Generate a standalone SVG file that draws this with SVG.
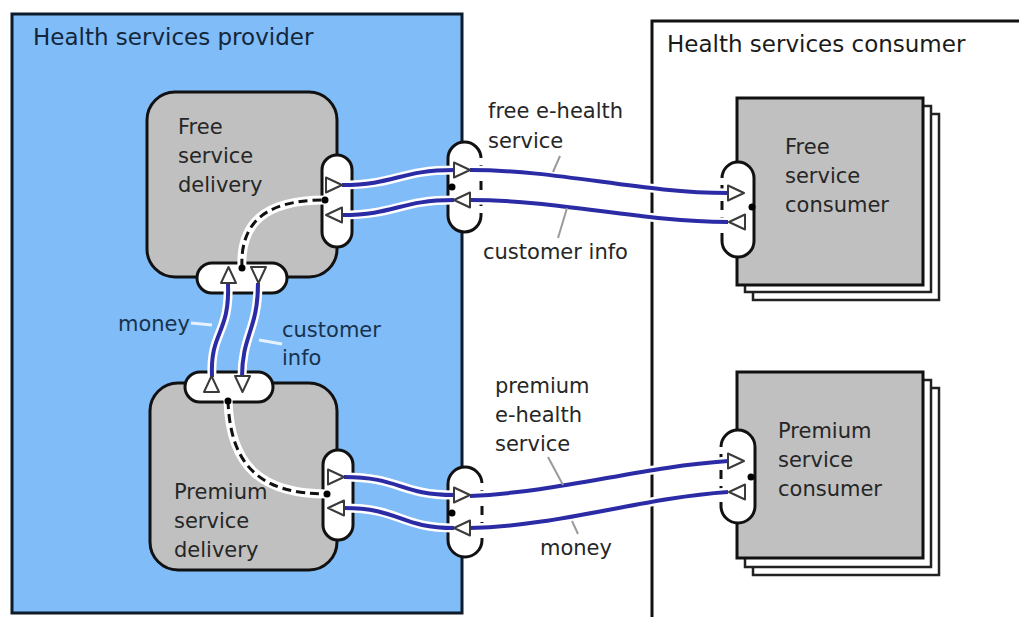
<svg xmlns="http://www.w3.org/2000/svg" xmlns:xlink="http://www.w3.org/1999/xlink" width="1019" height="617" viewBox="0 0 1019 617">
<style>
.t{font-family:"DejaVu Sans",Verdana,sans-serif;font-size:21px;fill:#262626}
.tp{font-family:"DejaVu Sans",Verdana,sans-serif;font-size:21px;fill:#17324d}
.title{font-family:"DejaVu Sans",Verdana,sans-serif;font-size:23px}
.box{fill:#c0c0c0;stroke:#111;stroke-width:3}
.layer{fill:#fff;stroke:#222;stroke-width:2.5}
.port{fill:#fff;stroke:#111;stroke-width:3}
.gap{stroke:#fff;stroke-width:4.5;stroke-dasharray:7 9;fill:none}
.halo{fill:none;stroke:#fff;stroke-width:9;stroke-linecap:round}
.flow{fill:none;stroke:#2b2ba6;stroke-width:4}
.dash{fill:none;stroke:#111;stroke-width:3;stroke-dasharray:9 5}
.tri{fill:#fff;stroke:#3a3a3a;stroke-width:2;stroke-linejoin:round}
.dot{fill:#000}
.lead{stroke:#9a9a9a;stroke-width:2}
.leadw{stroke:#e6f3ff;stroke-width:3}
</style>
<defs>
<path id="tri" d="M0,-7.5 L16,0 L0,7.5 Z"/>
</defs>

<g id="provider">
<rect x="12" y="14" width="450" height="599" fill="#80bcf8" stroke="#0d1b2a" stroke-width="3"/>
<text class="title" x="33" y="45" fill="#13263a">Health services provider</text>
</g>

<g id="consumer">
<rect x="652" y="21" width="420" height="640" fill="#fff" stroke="#111" stroke-width="3"/>
<text class="title" x="667" y="52" fill="#1a1a1a">Health services consumer</text>
</g>

<g id="free-service-delivery">
<rect class="box" x="147" y="92" width="190" height="185" rx="28"/>
<text class="t" x="178" y="134">Free</text>
<text class="t" x="178" y="163">service</text>
<text class="t" x="178" y="192">delivery</text>
<rect class="port" x="322" y="155" width="30" height="92" rx="15"/>
<rect class="port" x="197" y="263" width="90" height="30" rx="15"/>
</g>

<g id="premium-service-delivery">
<rect class="box" x="150" y="383" width="187" height="187" rx="28"/>
<text class="t" x="174" y="499">Premium</text>
<text class="t" x="174" y="528">service</text>
<text class="t" x="174" y="557">delivery</text>
<rect class="port" x="323" y="450" width="30" height="90" rx="15"/>
<rect class="port" x="185" y="372" width="88" height="30" rx="15"/>
</g>

<g id="free-service-consumer">
<rect class="layer" x="753" y="114" width="186" height="186"/>
<rect class="layer" x="745" y="106" width="186" height="186"/>
<rect class="box" x="737" y="98" width="186" height="187"/>
<text class="t" x="785" y="154">Free</text>
<text class="t" x="785" y="183">service</text>
<text class="t" x="785" y="212">consumer</text>
<rect class="port" x="722" y="162" width="32" height="95" rx="16"/>
<line class="gap" x1="722" y1="178" x2="722" y2="241"/>
</g>

<g id="premium-service-consumer">
<rect class="layer" x="753" y="388" width="186" height="187"/>
<rect class="layer" x="745" y="380" width="186" height="187"/>
<rect class="box" x="737" y="372" width="186" height="186"/>
<text class="t" x="778" y="438">Premium</text>
<text class="t" x="778" y="467">service</text>
<text class="t" x="778" y="496">consumer</text>
<rect class="port" x="721" y="430" width="34" height="93" rx="17"/>
<line class="gap" x1="721" y1="447" x2="721" y2="506"/>
</g>

<g id="free-channel-port">
<rect class="port" x="448" y="142" width="33" height="90" rx="16.5"/>
<line class="gap" x1="481" y1="158" x2="481" y2="216"/>
</g>

<g id="premium-channel-port">
<rect class="port" x="448" y="467" width="34" height="90" rx="17"/>
<line class="gap" x1="482" y1="483" x2="482" y2="541"/>
</g>

<g id="connectors">
<path class="halo" d="M242,268 C240,225 262,200 325,200"/>
<path class="dash" d="M242,268 C240,225 262,200 325,200"/>
<path class="halo" d="M228,400 C230,470 265,494 327,494"/>
<path class="dash" d="M228,400 C230,470 265,494 327,494"/>

<g>
<path class="halo" d="M342,185 C395,185 400,170 454,170"/>
<path class="flow" d="M342,185 C395,185 400,170 454,170"/>
<path class="halo" d="M454,200 C400,200 395,215 342,215"/>
<path class="flow" d="M454,200 C400,200 395,215 342,215"/>
<path class="halo" d="M470,170 C560,170 640,193 728,193"/>
<path class="flow" d="M470,170 C560,170 640,193 728,193"/>
<path class="halo" d="M728,222 C640,222 560,200 470,200"/>
<path class="flow" d="M728,222 C640,222 560,200 470,200"/>

<path class="halo" d="M344,477 C400,477 400,495 454,495"/>
<path class="flow" d="M344,477 C400,477 400,495 454,495"/>
<path class="halo" d="M454,528 C400,528 400,508 344,508"/>
<path class="flow" d="M454,528 C400,528 400,508 344,508"/>
<path class="halo" d="M470,496 C560,492 640,467 728,461"/>
<path class="flow" d="M470,496 C560,492 640,467 728,461"/>
<path class="halo" d="M728,492 C640,498 560,526 470,528"/>
<path class="flow" d="M728,492 C640,498 560,526 470,528"/>

<path class="halo" d="M212,377 C210,330 230,335 228,283"/>
<path class="flow" d="M212,377 C210,330 230,335 228,283"/>
<path class="halo" d="M258,283 C258,330 242,335 242,377"/>
<path class="flow" d="M258,283 C258,330 242,335 242,377"/>
</g>

<use xlink:href="#tri" class="tri" transform="translate(326,185)"/>
<use xlink:href="#tri" class="tri" transform="translate(342,215) rotate(180)"/>
<use xlink:href="#tri" class="tri" transform="translate(454,170)"/>
<use xlink:href="#tri" class="tri" transform="translate(470,200) rotate(180)"/>
<use xlink:href="#tri" class="tri" transform="translate(728,193)"/>
<use xlink:href="#tri" class="tri" transform="translate(745,222) rotate(180)"/>
<use xlink:href="#tri" class="tri" transform="translate(328,477)"/>
<use xlink:href="#tri" class="tri" transform="translate(344,508) rotate(180)"/>
<use xlink:href="#tri" class="tri" transform="translate(454,495)"/>
<use xlink:href="#tri" class="tri" transform="translate(470,528) rotate(180)"/>
<use xlink:href="#tri" class="tri" transform="translate(728,461)"/>
<use xlink:href="#tri" class="tri" transform="translate(745,492) rotate(180)"/>
<use xlink:href="#tri" class="tri" transform="translate(228.5,283) rotate(-90)"/>
<use xlink:href="#tri" class="tri" transform="translate(258.5,267) rotate(90)"/>
<use xlink:href="#tri" class="tri" transform="translate(211.5,392) rotate(-90)"/>
<use xlink:href="#tri" class="tri" transform="translate(242.5,376) rotate(90)"/>

<circle class="dot" cx="242" cy="268" r="3.5"/>
<circle class="dot" cx="325" cy="200" r="3.5"/>
<circle class="dot" cx="228" cy="401" r="3.5"/>
<circle class="dot" cx="327" cy="494" r="3.5"/>
<circle class="dot" cx="452" cy="187" r="3.5"/>
<circle class="dot" cx="452" cy="513" r="3.5"/>
<circle class="dot" cx="752" cy="207" r="3.5"/>
<circle class="dot" cx="751" cy="477" r="3.5"/>

<line class="lead" x1="560" y1="156" x2="553" y2="172"/>
<line class="lead" x1="567" y1="208" x2="558" y2="238"/>
<line class="lead" x1="548" y1="457" x2="563" y2="485"/>
<line class="lead" x1="572" y1="521" x2="578" y2="534"/>
<line class="leadw" x1="191" y1="323" x2="212" y2="325"/>
<line class="leadw" x1="259" y1="340" x2="282" y2="344"/>
</g>

<g id="labels">
<text class="t" x="488" y="118">free e-health</text>
<text class="t" x="488" y="148">service</text>
<text class="t" x="483" y="259">customer info</text>
<text class="t" x="495" y="393">premium</text>
<text class="t" x="495" y="422">e-health</text>
<text class="t" x="495" y="451">service</text>
<text class="t" x="540" y="555">money</text>
<text class="tp" x="118" y="331">money</text>
<text class="tp" x="282" y="337">customer</text>
<text class="tp" x="282" y="365">info</text>
</g>
</svg>
